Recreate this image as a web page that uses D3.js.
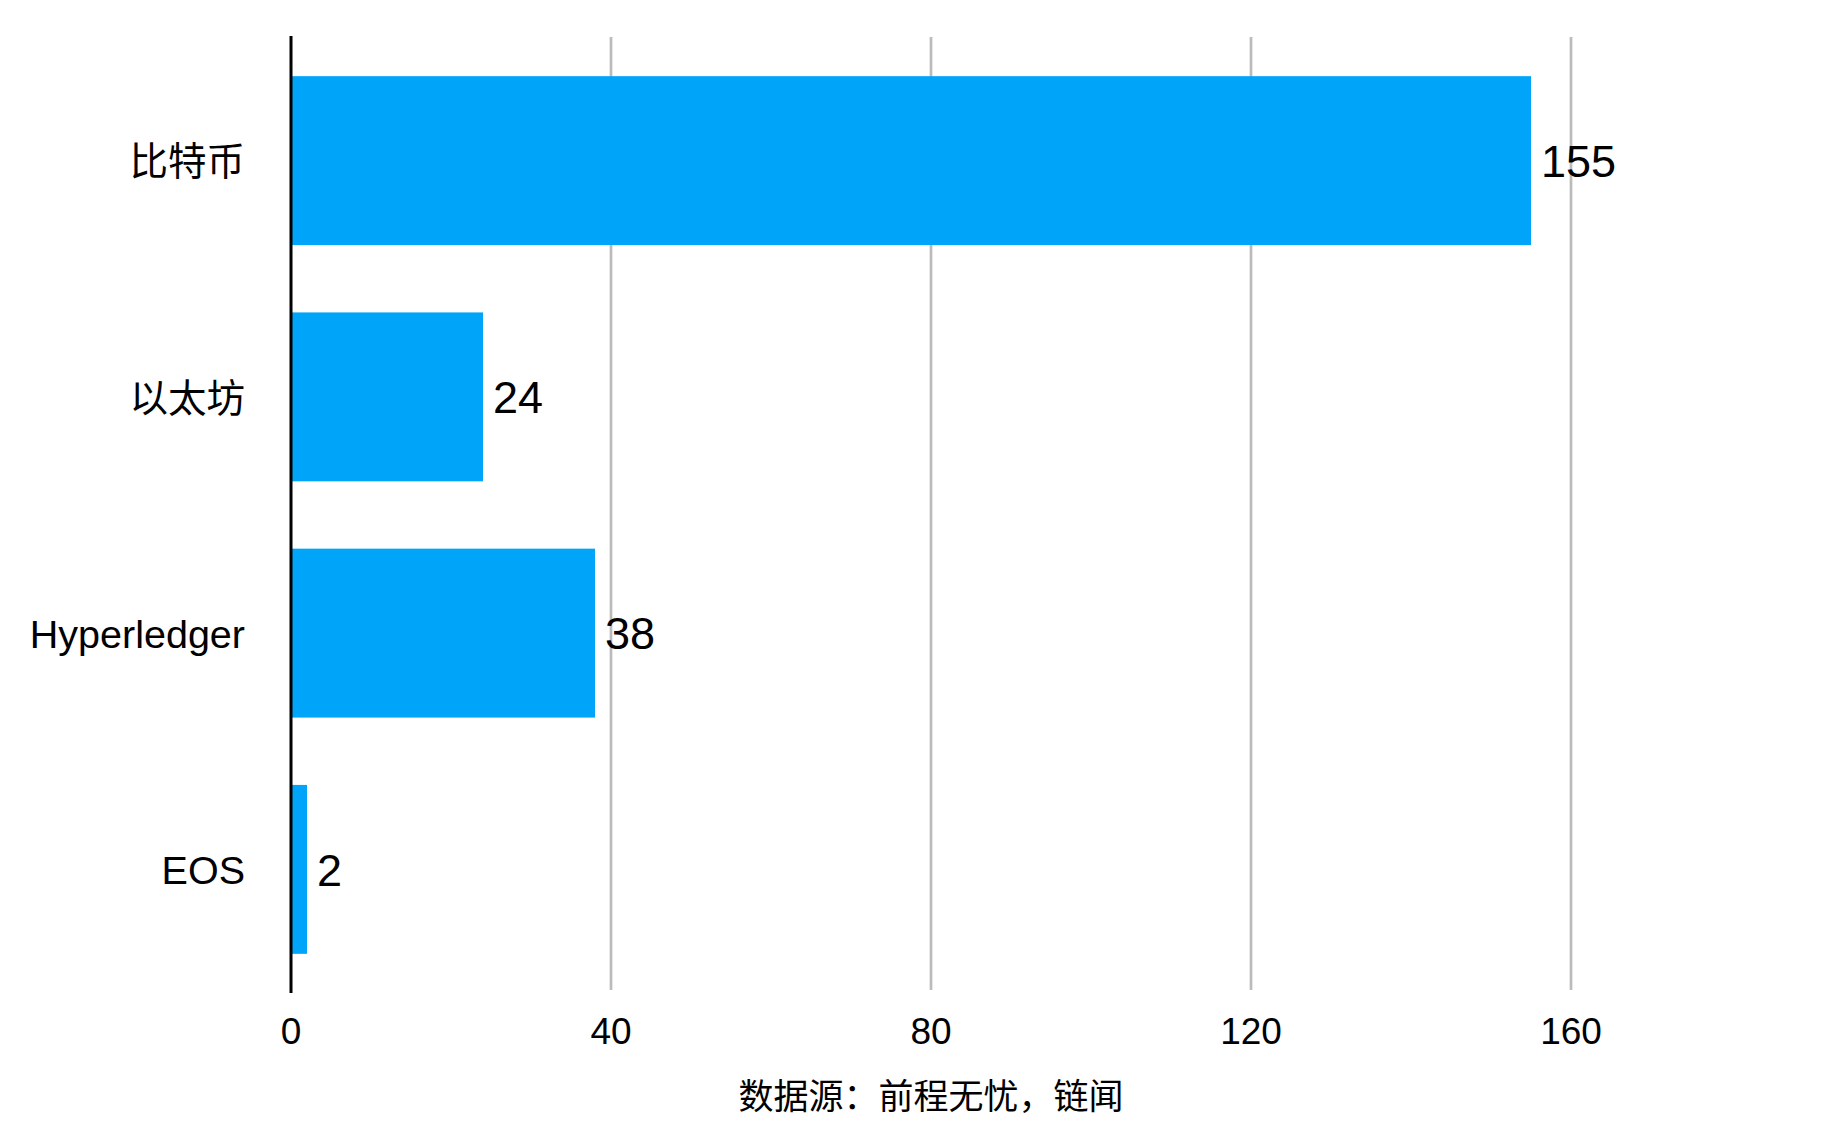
<!DOCTYPE html>
<html>
<head>
<meta charset="utf-8">
<script src="https://cdn.jsdelivr.net/npm/d3@7"></script>
<style>
  html, body { margin: 0; padding: 0; background: #fff; }
  text { font-family: "Liberation Sans", Arial, "Noto Sans CJK SC", sans-serif; fill: #000; }
</style>
</head>
<body>
<svg id="chart" width="1826" height="1126"></svg>
<script>
const categories = ["比特币", "以太坊", "Hyperledger", "EOS"];
const values = [155, 24, 38, 2];
const tickValues = [0, 40, 80, 120, 160];
const sourceText = "数据源：前程无忧，链闻";

const W = 1826, H = 1126;
const margin = { left: 291, right: 255, top: 36, bottom: 132 };
const svg = d3.select("#chart");

const x = d3.scaleLinear().domain([0, 160]).range([margin.left, W - margin.right]);
const y = d3.scaleBand().domain(categories).range([margin.top, H - margin.bottom])
  .paddingInner(0.285).paddingOuter(0.17);

// gridlines
svg.append("g").selectAll("line").data(tickValues.filter(d => d > 0)).join("line")
  .attr("x1", d => x(d)).attr("x2", d => x(d))
  .attr("y1", 37).attr("y2", 990)
  .attr("stroke", "#bbbbbb").attr("stroke-width", 2.7);

// bars
svg.append("g").selectAll("rect").data(categories).join("rect")
  .attr("x", x(0))
  .attr("y", d => y(d))
  .attr("width", (d, i) => x(values[i]) - x(0))
  .attr("height", y.bandwidth())
  .attr("fill", "#00A5FA");

// axis line
svg.append("line")
  .attr("x1", x(0)).attr("x2", x(0))
  .attr("y1", margin.top).attr("y2", 993)
  .attr("stroke", "#000").attr("stroke-width", 3);

// value labels
svg.append("g").selectAll("text").data(categories).join("text")
  .attr("x", (d, i) => x(values[i]) + 10)
  .attr("y", d => y(d) + y.bandwidth() / 2)
  .attr("dy", "0.36em")
  .attr("font-size", 45)
  .text((d, i) => values[i]);

// category labels
svg.append("g").selectAll("text").data(categories).join("text")
  .attr("x", x(0) - 46)
  .attr("y", d => y(d) + y.bandwidth() / 2)
  .attr("dy", "0.38em")
  .attr("text-anchor", "end")
  .attr("font-size", d => /[A-Za-z]/.test(d) ? 39.5 : 38.5)
  .text(d => d);

// tick labels
svg.append("g").selectAll("text").data(tickValues).join("text")
  .attr("x", d => x(d))
  .attr("y", 1044)
  .attr("text-anchor", "middle")
  .attr("font-size", 37)
  .text(d => d);

// source
svg.append("text")
  .attr("x", (x(0) + x(160)) / 2)
  .attr("y", 1109)
  .attr("text-anchor", "middle")
  .attr("font-size", 35)
  .text(sourceText);
</script>
</body>
</html>
